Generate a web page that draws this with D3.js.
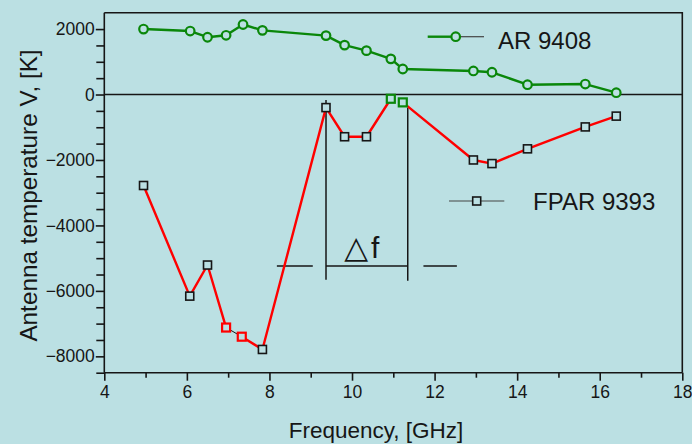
<!DOCTYPE html>
<html>
<head>
<meta charset="utf-8">
<script src="https://cdn.jsdelivr.net/npm/d3@7"></script>
<style>
  html, body { margin: 0; padding: 0; background: #bbe0e3; }
  svg { display: block; font-family: "Liberation Sans", Arial, sans-serif; }
</style>
</head>
<body>
<svg id="chart" width="692" height="444"></svg>
<script>
// AR 9408 series: frequency [GHz] and antenna temperature [K]
const arFreq = [4.95, 6.08, 6.5, 6.95, 7.36, 7.83, 9.37, 9.82, 10.35, 10.94, 11.23, 12.94, 13.39, 14.25, 15.65, 16.4];
const arTemp = [2000, 1940, 1750, 1810, 2140, 1960, 1800, 1510, 1340, 1090, 780, 720, 680, 300, 320, 55];

// FPAR 9393 series
const fparFreq = [4.95, 6.07, 6.5, 6.95, 7.33, 7.83, 9.37, 9.82, 10.35, 10.94, 11.23, 12.94, 13.39, 14.25, 15.65, 16.4];
const fparTemp = [-2780, -6160, -5210, -7120, -7400, -7790, -400, -1290, -1290, -130, -240, -2000, -2110, -1660, -990, -660];

// axis ticks
const xTickValues = [4, 6, 8, 10, 12, 14, 16, 18];
const xMinorValues = [5, 7, 9, 11, 13, 15, 17];
const yTickValues = [-8000, -6000, -4000, -2000, 0, 2000];
const yMinorValues = [-8500, -7500, -7000, -6500, -5500, -5000, -4500, -3500, -3000, -2500, -1500, -1000, -500, 500, 1000, 1500];

// bandwidth marker: edges, level and label
const bandEdges = [9.37, 11.35];
const bandLevel = -5240;
const bandSymbol = "\u25B3";
const bandVar = "f";

const svg = d3.select("#chart");
const ink = "#161616";
const bg = "#bbe0e3";

const x = d3.scaleLinear().domain([4, 18]).range([104.3, 682.3]);
const y = d3.scaleLinear().domain([-8500, 2500]).range([372.7, 12.7]);

// frame (top and right)
svg.append("path")
  .attr("d", `M${x(4)},${y(2500)}H${x(18)}V${y(-8500)}`)
  .attr("fill", "none").attr("stroke", ink).attr("stroke-width", 1.6);

// zero line
svg.append("line")
  .attr("x1", x(4)).attr("x2", x(18)).attr("y1", y(0)).attr("y2", y(0))
  .attr("stroke", ink).attr("stroke-width", 1.4);

// x axis
const gx = svg.append("g").attr("transform", `translate(0,${y(-8500)})`)
  .call(d3.axisBottom(x).tickValues(xTickValues).tickSize(8).tickPadding(5).tickFormat(d3.format("d")));
svg.append("g").attr("transform", `translate(0,${y(-8500)})`)
  .call(d3.axisBottom(x).tickValues(xMinorValues).tickSize(5).tickFormat(""))
  .call(g => g.select(".domain").remove());

// y axis
const gy = svg.append("g").attr("transform", `translate(${x(4)},0)`)
  .call(d3.axisLeft(y).tickValues(yTickValues).tickSize(8.5).tickPadding(1).tickFormat(d3.format("d")));
svg.append("g").attr("transform", `translate(${x(4)},0)`)
  .call(d3.axisLeft(y).tickValues(yMinorValues).tickSize(8).tickFormat(""))
  .call(g => g.select(".domain").remove());

svg.selectAll(".domain, .tick line").attr("stroke", ink).attr("stroke-width", 1.6);
gx.select(".domain").attr("d", `M${x(4)},0H${x(18)}`);
gy.select(".domain").attr("d", `M0,${y(2500)}V${y(-8500)}`);
svg.selectAll(".tick text").attr("fill", ink).attr("font-size", 17.5)
  .attr("font-family", "Liberation Sans, Arial, sans-serif");
gx.selectAll(".tick text").attr("dy", "0.71em");

// axis titles
svg.append("text")
  .attr("x", 376).attr("y", 438).attr("text-anchor", "middle")
  .attr("font-size", 22.5).attr("fill", ink)
  .text("Frequency, [GHz]");
svg.append("text")
  .attr("transform", `translate(36.7,195.5) rotate(-90)`)
  .attr("text-anchor", "middle")
  .attr("font-size", 24.3).attr("fill", ink)
  .text("Antenna temperature V, [K]");

// bandwidth annotation
const band = svg.append("g").attr("stroke", ink).attr("stroke-width", 1.5);
band.append("line").attr("x1", x(bandEdges[0])).attr("x2", x(bandEdges[0])).attr("y1", y(-170)).attr("y2", y(-5660));
band.append("line").attr("x1", x(bandEdges[1])).attr("x2", x(bandEdges[1])).attr("y1", y(-410)).attr("y2", y(-5690));
band.append("line").attr("x1", x(bandEdges[0])).attr("x2", x(bandEdges[1])).attr("y1", y(bandLevel)).attr("y2", y(bandLevel));
band.append("line").attr("x1", x(8.18)).attr("x2", x(9.05)).attr("y1", y(bandLevel)).attr("y2", y(bandLevel));
band.append("line").attr("x1", x(11.73)).attr("x2", x(12.54)).attr("y1", y(bandLevel)).attr("y2", y(bandLevel));
const bandText = svg.append("text")
  .attr("x", x(9.81)).attr("y", y(-5000))
  .attr("fill", ink);
bandText.append("tspan").attr("font-size", 31).attr("font-family", "DejaVu Sans, sans-serif").text(bandSymbol);
bandText.append("tspan").attr("font-size", 30).attr("dx", 3).text(bandVar);

// series point tables
const ar = arFreq.map((f, i) => ({ f, t: arTemp[i] }));
const fpar = fparFreq.map((f, i) => ({ f, t: fparTemp[i] }));

// AR 9408 line
svg.append("path")
  .datum(ar)
  .attr("fill", "none").attr("stroke", "#0a870a").attr("stroke-width", 2.4)
  .attr("stroke-linejoin", "round")
  .attr("d", d3.line().x(d => x(d.f)).y(d => y(d.t)));

// FPAR 9393 line, drawn segment by segment
const segStyle = i => i === 3 ? { c: ink, w: 1 } : i === 9 ? null : { c: "#ff0000", w: 2.4 };
fpar.slice(0, -1).forEach((d, i) => {
  const s = segStyle(i);
  if (!s) return;
  const e = fpar[i + 1];
  svg.append("line")
    .attr("x1", x(d.f)).attr("y1", y(d.t)).attr("x2", x(e.f)).attr("y2", y(e.t))
    .attr("stroke", s.c).attr("stroke-width", s.w).attr("stroke-linecap", "round");
});

// markers
svg.append("g").selectAll("circle").data(ar).join("circle")
  .attr("cx", d => x(d.f)).attr("cy", d => y(d.t)).attr("r", 4.3)
  .attr("fill", bg).attr("stroke", "#0a870a").attr("stroke-width", 2.2);

const sq = 8;
const markerStroke = i => (i === 3 || i === 4) ? "#ff0000" : (i === 9 || i === 10) ? "#0a870a" : ink;
svg.append("g").selectAll("rect").data(fpar).join("rect")
  .attr("x", d => x(d.f) - sq / 2).attr("y", d => y(d.t) - sq / 2)
  .attr("width", sq).attr("height", sq)
  .attr("fill", bg)
  .attr("stroke", (d, i) => markerStroke(i))
  .attr("stroke-width", (d, i) => markerStroke(i) === ink ? 1.6 : 2.2);

// legend: AR 9408
const lg1 = svg.append("g");
lg1.append("line").attr("x1", 427.7).attr("x2", 452).attr("y1", 36.7).attr("y2", 36.7)
  .attr("stroke", "#0a870a").attr("stroke-width", 2.4);
lg1.append("line").attr("x1", 460).attr("x2", 484).attr("y1", 36.7).attr("y2", 36.7)
  .attr("stroke", "#444").attr("stroke-width", 1.2);
lg1.append("circle").attr("cx", 455.7).attr("cy", 36.7).attr("r", 4.3)
  .attr("fill", bg).attr("stroke", "#0a870a").attr("stroke-width", 2.2);
lg1.append("text").attr("x", 498).attr("y", 49).attr("font-size", 24).attr("fill", ink).text("AR 9408");

// legend: FPAR 9393
const lg2 = svg.append("g");
lg2.append("line").attr("x1", 449).attr("x2", 504.3).attr("y1", 201).attr("y2", 201)
  .attr("stroke", "#444").attr("stroke-width", 1.2);
lg2.append("rect").attr("x", 476.7 - sq / 2).attr("y", 201 - sq / 2).attr("width", sq).attr("height", sq)
  .attr("fill", bg).attr("stroke", ink).attr("stroke-width", 1.6);
lg2.append("text").attr("x", 533).attr("y", 209.5).attr("font-size", 24).attr("fill", ink).text("FPAR 9393");
</script>
</body>
</html>
